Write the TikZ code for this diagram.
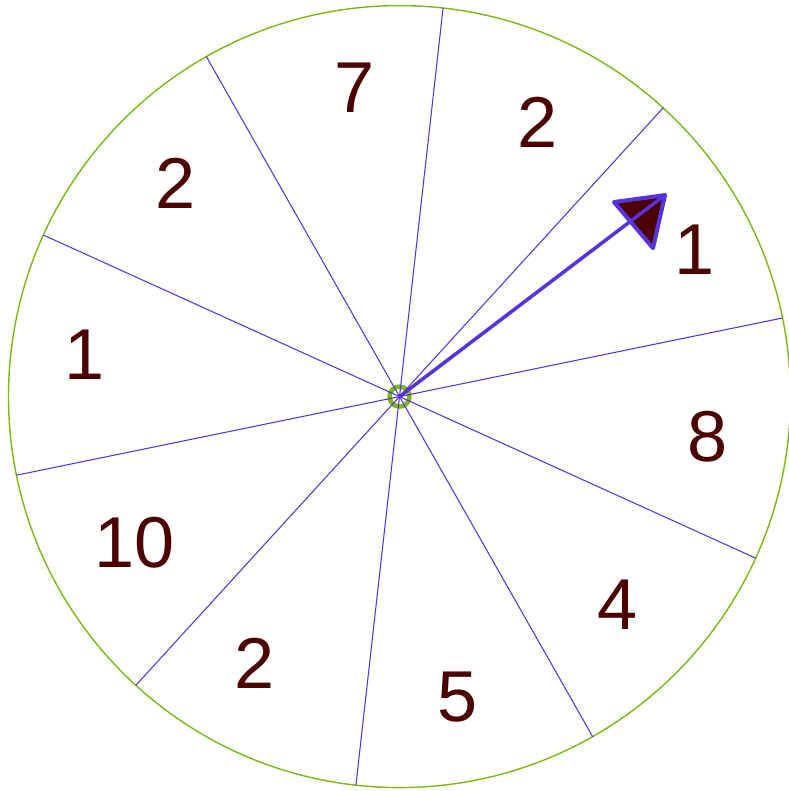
\documentclass[tikz,border=0pt]{standalone}
\usepackage{fontspec}
\setmainfont{Liberation Sans}
\definecolor{rimgreen}{RGB}{122,186,18}
\definecolor{spokeblue}{RGB}{85,51,221}
\definecolor{numred}{RGB}{77,0,0}

\begin{document}
\begin{tikzpicture}[line cap=round,line join=round,
  rim/.style={draw=rimgreen,line width=0.8pt},
  hub/.style={draw=rimgreen,line width=2.6pt},
  spoke/.style={draw=spokeblue,line width=0.6pt},
  numlabel/.style={text=numred,inner sep=0pt,font=\fontsize{41}{41}\selectfont},
  pointer/.style={draw=spokeblue,line width=2pt}]
  \useasboundingbox (-7.99,-7.888) rectangle (7.77,7.932);
  \coordinate (O) at (0,0);
  \draw[rim] (O) circle[radius=7.82];
  \draw[hub] (O) circle[radius=0.2];
  % spokes, five diameters
  \foreach \a in {11.6,47.6,83.6,119.6,155.6} {
    \draw[spoke] (\a:7.82) -- (\a+180:7.82);
  }
  % sector values
  \foreach \x/\y/\t [count=\i] in {5.91/2.93/1, 2.77/5.49/2, -0.89/6.17/7, -4.47/4.27/2, -6.29/0.83/1,
      -5.29/-2.93/10, -2.89/-5.33/2, 1.17/-6.01/5, 4.37/-4.17/4, 6.17/-0.81/8} {
    \node[numlabel] (lab\i) at (\x,\y) {\t};
  }
  % pointer
  \coordinate (tip) at (5.31,4.03);
  \coordinate (hl) at (4.29,3.89);
  \coordinate (hr) at (5.07,2.97);
  \filldraw[pointer,line width=2.3pt,fill=numred] (tip) -- (hl) -- (hr) -- cycle;
  \draw[pointer] (O) -- (tip);
\end{tikzpicture}
\end{document}
